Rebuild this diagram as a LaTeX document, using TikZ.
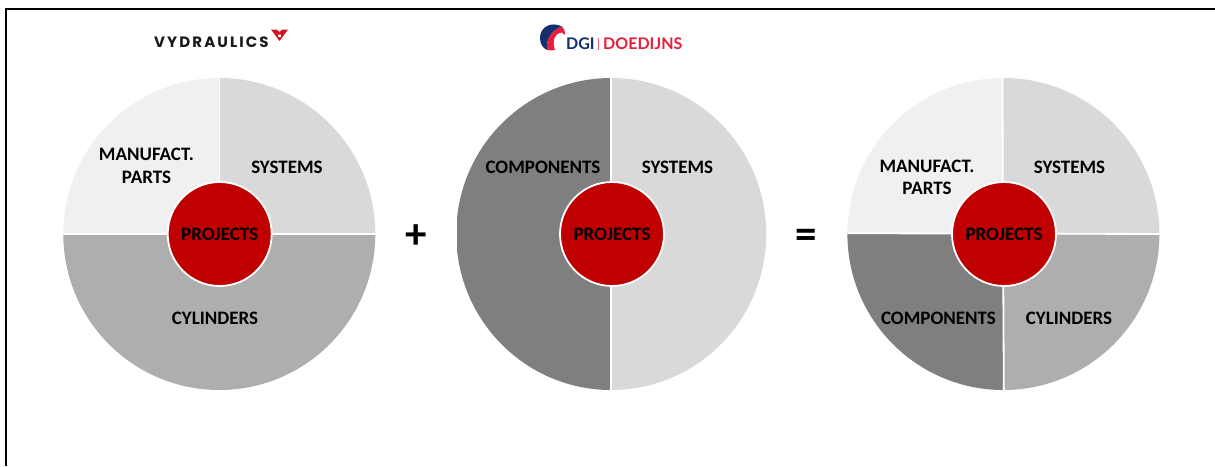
\documentclass[tikz,border=0pt]{standalone}
\usepackage{fontspec}
\setmainfont{Carlito}
\newfontfamily\logofont{Poppins}
\newfontfamily\dgifont{Lato}
\definecolor{gLight}{HTML}{F0F0F0}
\definecolor{gSys}{HTML}{D9D9D9}
\definecolor{gCyl}{HTML}{AEAEAE}
\definecolor{gComp}{HTML}{7F7F7F}
\definecolor{projRed}{HTML}{C00000}
\definecolor{dgiNavy}{HTML}{12306B}
\definecolor{dgiRed}{HTML}{E6203A}
\definecolor{vyRed}{HTML}{D5121E}
\tikzset{
  seg/.style={white,line width=1.8pt},
  lab/.style={font=\bfseries\fontsize{19}{22.5}\selectfont,text=black,inner sep=0pt,align=center},
  hub/.style={circle,fill=projRed,draw=white,line width=1.8pt,minimum size=104pt,inner sep=0pt,
    font=\bfseries\fontsize{19}{22}\selectfont,text=black},
  oper/.style={font=\bfseries\fontsize{43}{43}\selectfont,text=black,inner sep=0pt},
  logoA/.style={font=\logofont\bfseries\fontsize{15}{16}\selectfont,text=black!90,inner sep=0pt,anchor=base west},
  logoB/.style={font=\dgifont\bfseries\fontsize{16}{17}\selectfont,inner sep=0pt,anchor=base west}
}
\begin{document}
\begin{tikzpicture}[x=1pt,y=-1pt]
\useasboundingbox (0,0) rectangle (1215,466);
\fill[white] (0,0) rectangle (1215,466);
\draw[black,line width=2pt] (6,466) -- (6,9) -- (1215,9);

% left pie
\begin{scope}
\clip (219.3,234) circle (156);
\fill[gLight] (60,70) rectangle (219,234);
\fill[gSys] (219,70) rectangle (380,234);
\fill[gCyl] (60,234) rectangle (380,395);
\draw[seg] (60,234) -- (380,234) (219.5,70) -- (219.5,234);
\end{scope}
\node[hub] (p1) at (219.7,234) {PROJECTS};
\node[lab] (s1) at (287,167.5) {SYSTEMS};
\node[lab] (m1) at (146.5,166) {MANUFACT.\\PARTS};
\node[lab] (c1) at (215,318) {CYLINDERS};

% middle pie
\begin{scope}
\clip (457,70) rectangle (780,400);
\clip (611.2,234) ellipse [x radius=155, y radius=156];
\fill[gComp] (450,70) rectangle (611.5,400);
\fill[gSys] (611.5,70) rectangle (780,400);
\draw[seg] (611.2,70) -- (611.2,400);
\end{scope}
\node[hub] (p2) at (612,234) {PROJECTS};
\node[lab] (s2) at (677.5,167.5) {SYSTEMS};
\node[lab] (c2) at (543,167.5) {COMPONENTS};

% right pie
\begin{scope}
\clip (1003.4,234) circle (156);
\fill[gLight] (840,70) -- (1002.4,70) -- (1002.8,233.5) -- (840,233.2) -- cycle;
\fill[gSys] (1002.4,70) -- (1170,70) -- (1170,234) -- (1002.8,233.5) -- cycle;
\fill[gCyl] (1003.9,400) -- (1170,400) -- (1170,234) -- (1002.8,233.5) -- cycle;
\fill[gComp] (840,233.2) -- (1002.8,233.5) -- (1003.9,400) -- (840,400) -- cycle;
\draw[seg] (840,233.2) -- (1003,233.6) -- (1170,234);
\draw[seg] (1002.4,70) -- (1003,234) -- (1003.9,400);
\end{scope}
\node[hub] (p3) at (1004,234) {PROJECTS};
\node[lab] (s3) at (1069.5,167.5) {SYSTEMS};
\node[lab] (m3) at (927,177.5) {MANUFACT.\\PARTS};
\node[lab] (c3) at (938.5,318) {COMPONENTS};
\node[lab] (y3) at (1069,318) {CYLINDERS};

% operators
\node[oper] (plus) at (416,237) {+};
\node[oper] (eq) at (806.5,239) {=};

% logos
\node[logoA] (vy) at (154,47) {\addfontfeature{LetterSpace=14}VYDRAULICS};
\fill[vyRed,even odd rule] (271,29.5) -- (276.5,29.5) -- (279.5,32) -- (282.5,29.5) -- (288,29.5) -- (279.5,41) -- cycle
  (278,34.5) -- (281,34.5) -- (281,37) -- (278,37) -- cycle;

\fill[dgiNavy] (562,26.5) .. controls (551,21) and (540,27) .. (540,38) .. controls (540,44) and (543,48) .. (547,50) .. controls (546,42) and (549,31) .. (562,26.5) -- cycle;
\fill[dgiRed] (562,26.5) .. controls (549,31) and (546,42) .. (547,50) .. controls (550,50.5) and (552,50.5) .. (555,50) .. controls (552,42) and (554,33) .. (562,32.5) .. controls (563,33) and (564,34) .. (565,35) .. controls (565,31) and (564,28) .. (562,26.5) -- cycle;
\node[logoB,text=dgiNavy] (dgi) at (566,49.5) {DGI};
\node[logoB,text=dgiRed] (doe) at (603,49.5) {DOEDIJNS};
\fill[dgiRed!70] (597.5,38) rectangle (598.5,50);
\end{tikzpicture}
\end{document}
